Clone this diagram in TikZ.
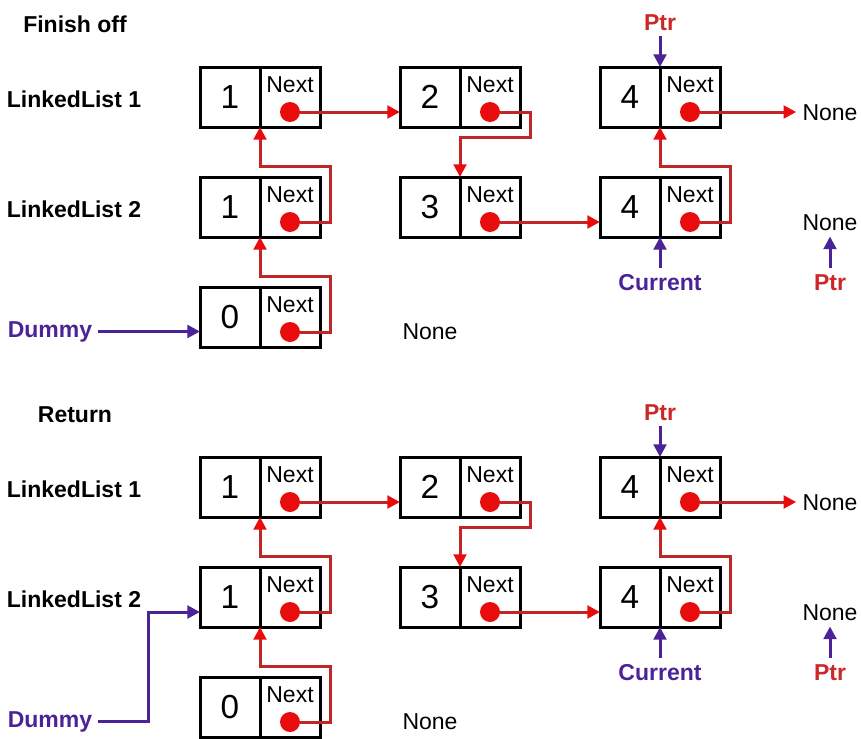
\documentclass[tikz,border=0pt]{standalone}
\usepackage{fontspec}
\setmainfont{Liberation Sans}
\usepackage{tikz}
\usetikzlibrary{arrows.meta}
\definecolor{dotred}{RGB}{232,12,12}
\definecolor{linkred}{RGB}{192,38,38}
\definecolor{ptrred}{RGB}{205,40,40}
\definecolor{ptrpurple}{RGB}{75,35,150}

\begin{document}
\begin{tikzpicture}[x=0.75pt,y=-0.75pt,
  cell/.style={draw,line width=2.25pt,minimum width=45pt,minimum height=45pt,inner sep=0pt,outer sep=0pt},
  val/.style={cell,font=\fontsize{25}{25}\selectfont},
  nxt/.style={cell,font=\fontsize{17.25}{20}\selectfont,text height=18.75pt,text depth=26.25pt},
  dot/.style={circle,fill=dotred,minimum size=15pt,inner sep=0pt},
  link/.style={linkred,line width=2.25pt,-{Triangle[length=9.5pt,width=9.5pt,color=dotred]}},
  ptr/.style={ptrpurple,line width=2.25pt,-{Triangle[length=9.5pt,width=9.5pt]}},
  title/.style={font=\fontsize{17.25}{20}\selectfont\bfseries,anchor=base},
  lbl/.style={font=\fontsize{17.25}{20}\selectfont\bfseries,anchor=base,inner sep=4.5pt},
  none/.style={font=\fontsize{17.25}{20}\selectfont,anchor=base,inner sep=4.5pt}]
\useasboundingbox (0,0) rectangle (861,739);

\node[title] (fin) at (75,32) {Finish off};
\node[title] (f1lbl) at (74,107) {LinkedList 1};
\node[title] (f2lbl) at (74,217) {LinkedList 2};

\node[val] (f1a) at (230,97) {1};
\node[nxt] (f1an) at (290,97) {Next};
\node[dot] (f1ad) at (290,112) {};
\node[val] (f1b) at (430,97) {2};
\node[nxt] (f1bn) at (490,97) {Next};
\node[dot] (f1bd) at (490,112) {};
\node[val] (f1c) at (630,97) {4};
\node[nxt] (f1cn) at (690,97) {Next};
\node[dot] (f1cd) at (690,112) {};

\node[val] (f2a) at (230,207) {1};
\node[nxt] (f2an) at (290,207) {Next};
\node[dot] (f2ad) at (290,222) {};
\node[val] (f2b) at (430,207) {3};
\node[nxt] (f2bn) at (490,207) {Next};
\node[dot] (f2bd) at (490,222) {};
\node[val] (f2c) at (630,207) {4};
\node[nxt] (f2cn) at (690,207) {Next};
\node[dot] (f2cd) at (690,222) {};

\node[val] (f3a) at (230,317) {0};
\node[nxt] (f3an) at (290,317) {Next};
\node[dot] (f3ad) at (290,332) {};

\node[lbl,text=ptrred] (fptr1) at (660,30) {Ptr};
\node[lbl,text=ptrpurple] (fcur) at (660,290) {Current};
\node[lbl,text=ptrred] (fptr2) at (830,290) {Ptr};
\node[lbl,text=ptrpurple] (fdum) at (50,337) {Dummy};
\node[none] (fnone1) at (830,120) {None};
\node[none] (fnone2) at (830,230) {None};
\node[none] (fnone3) at (430,339) {None};

\draw[link] (f1ad) -- (f1ad -| f1b.west);
\draw[link] (f1bd) -- ++(40,0) -- ++(0,25) -| (f2b.north east);
\draw[link] (f1cd) -- (f1cd -| fnone1.west);
\draw[link] (f2ad) -- ++(40,0) -- ++(0,-56) -| (f1a.south east);
\draw[link] (f2bd) -- (f2bd -| f2c.west);
\draw[link] (f2cd) -- ++(40,0) -- ++(0,-56) -| (f1c.south east);
\draw[link] (f3ad) -- ++(40,0) -- ++(0,-56) -| (f2a.south east);
\draw[ptr] (fdum.east) -- (fdum.east -| f3a.west);
\draw[ptr] (fptr1) -- (f1c.north east);
\draw[ptr] (fcur) -- (f2c.south east);
\draw[ptr] (fptr2) -- (fnone2);

\node[title] (ret) at (75,422) {Return};
\node[title] (r1lbl) at (74,497) {LinkedList 1};
\node[title] (r2lbl) at (74,607) {LinkedList 2};

\node[val] (r1a) at (230,487) {1};
\node[nxt] (r1an) at (290,487) {Next};
\node[dot] (r1ad) at (290,502) {};
\node[val] (r1b) at (430,487) {2};
\node[nxt] (r1bn) at (490,487) {Next};
\node[dot] (r1bd) at (490,502) {};
\node[val] (r1c) at (630,487) {4};
\node[nxt] (r1cn) at (690,487) {Next};
\node[dot] (r1cd) at (690,502) {};

\node[val] (r2a) at (230,597) {1};
\node[nxt] (r2an) at (290,597) {Next};
\node[dot] (r2ad) at (290,612) {};
\node[val] (r2b) at (430,597) {3};
\node[nxt] (r2bn) at (490,597) {Next};
\node[dot] (r2bd) at (490,612) {};
\node[val] (r2c) at (630,597) {4};
\node[nxt] (r2cn) at (690,597) {Next};
\node[dot] (r2cd) at (690,612) {};

\node[val] (r3a) at (230,707) {0};
\node[nxt] (r3an) at (290,707) {Next};
\node[dot] (r3ad) at (290,722) {};

\node[lbl,text=ptrred] (rptr1) at (660,420) {Ptr};
\node[lbl,text=ptrpurple] (rcur) at (660,680) {Current};
\node[lbl,text=ptrred] (rptr2) at (830,680) {Ptr};
\node[lbl,text=ptrpurple] (rdum) at (50,727) {Dummy};
\node[none] (rnone1) at (830,510) {None};
\node[none] (rnone2) at (830,620) {None};
\node[none] (rnone3) at (430,729) {None};

\draw[link] (r1ad) -- (r1ad -| r1b.west);
\draw[link] (r1bd) -- ++(40,0) -- ++(0,25) -| (r2b.north east);
\draw[link] (r1cd) -- (r1cd -| rnone1.west);
\draw[link] (r2ad) -- ++(40,0) -- ++(0,-56) -| (r1a.south east);
\draw[link] (r2bd) -- (r2bd -| r2c.west);
\draw[link] (r2cd) -- ++(40,0) -- ++(0,-56) -| (r1c.south east);
\draw[link] (r3ad) -- ++(40,0) -- ++(0,-56) -| (r2a.south east);
\draw[ptr] (rdum.east) -- ++(50,0) |- (r2ad -| r2a.west);
\draw[ptr] (rptr1) -- (r1c.north east);
\draw[ptr] (rcur) -- (r2c.south east);
\draw[ptr] (rptr2) -- (rnone2);

\end{tikzpicture}
\end{document}
